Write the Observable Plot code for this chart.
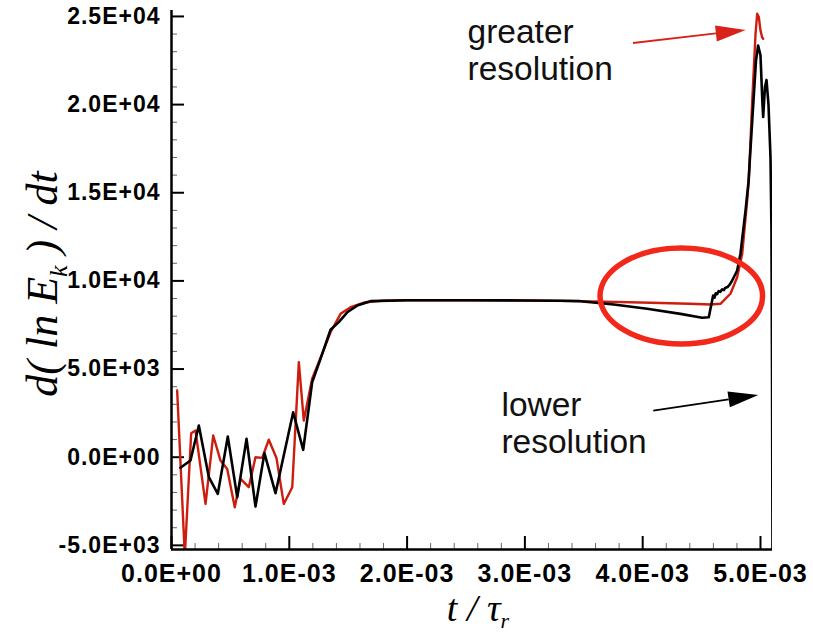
<!DOCTYPE html>
<html>
<head>
<meta charset="utf-8">
<script src="https://cdn.jsdelivr.net/npm/d3@7"></script>
<script src="https://cdn.jsdelivr.net/npm/@observablehq/plot@0.6"></script>
<style>
  html, body { margin: 0; padding: 0; background: #fff; }
  #chart { width: 813px; height: 634px; }
  g[aria-label="y-axis tick label"] text, g[aria-label="x-axis tick label"] text { letter-spacing: 1px; }
</style>
</head>
<body>
<div id="chart"></div>
<script>
// ---- data (time in units of 1e-3 tau_r, growth rate d(ln Ek)/dt) ----
const redT = [0.048, 0.113, 0.167, 0.204, 0.289, 0.354, 0.416, 0.473, 0.537, 0.586, 0.656, 0.713, 0.770, 0.826, 0.891, 0.953, 1.025, 1.081, 1.123, 1.194, 1.279, 1.350, 1.435, 1.520, 1.647, 1.80, 2.00, 2.50, 3.00, 3.47, 4.07, 4.40, 4.576, 4.66, 4.745, 4.802, 4.845, 4.887, 4.901, 4.930, 4.958, 4.972, 4.986, 5.000, 5.014, 5.023];
const redV = [3780, -5600, 1360, 1510, -2650, 1230, -190, -670, -2840, -1230, -1700, 0, -40, 990, -40, -2650, -1700, 5390, 2080, 4450, 5870, 7090, 8130, 8510, 8790, 8880, 8900, 8900, 8890, 8850, 8760, 8700, 8660, 8700, 9270, 10210, 11540, 14560, 15700, 20230, 24010, 25150, 24960, 24200, 23820, 23730];

const blackT = [0.076, 0.161, 0.232, 0.317, 0.393, 0.478, 0.558, 0.637, 0.713, 0.789, 0.883, 1.033, 1.118, 1.194, 1.265, 1.350, 1.420, 1.492, 1.576, 1.689, 2.00, 2.50, 3.00, 3.30, 3.47, 3.755, 4.038, 4.321, 4.505, 4.561, 4.598, 4.61, 4.62, 4.632, 4.645, 4.66, 4.675, 4.689, 4.70, 4.72, 4.74, 4.76, 4.802, 4.830, 4.873, 4.898, 4.932, 4.962, 4.980, 5.000, 5.017, 5.023, 5.038, 5.051, 5.068, 5.085, 5.093, 5.098, 5.102];
const blackV = [-600, -190, 1800, -1130, -2080, 1170, -2270, 1040, -2800, 230, -2040, 2550, 420, 4250, 5580, 7230, 7660, 8220, 8600, 8850, 8900, 8900, 8890, 8870, 8850, 8660, 8420, 8130, 7910, 7940, 9170, 9050, 9300, 9250, 9420, 9380, 9520, 9480, 9600, 9650, 9800, 10020, 10590, 11540, 13990, 15600, 19300, 22500, 23350, 22800, 20000, 19300, 21000, 21400, 20000, 17000, 13000, 5000, -5600];

const xMajorTicks = [0, 1, 2, 3, 4, 5];
const xMinorTicks = [0.2, 0.4, 0.6, 0.8, 1.2, 1.4, 1.6, 1.8, 2.2, 2.4, 2.6, 2.8, 3.2, 3.4, 3.6, 3.8, 4.2, 4.4, 4.6, 4.8];
const yMajorTicks = [-5000, 0, 5000, 10000, 15000, 20000, 25000];
const yMinorTicks = [-4000, -3000, -2000, -1000, 1000, 2000, 3000, 4000, 6000, 7000, 8000, 9000, 11000, 12000, 13000, 14000, 16000, 17000, 18000, 19000, 21000, 22000, 23000, 24000];

const annoText = ["greater\nresolution", "lower\nresolution"];
const annoT = [2.513, 2.801];
const annoV = [24987, 3829];

const arrowTailT = [3.922, 4.094];
const arrowTailV = [23466, 2609];
const arrowTipT = [4.879, 4.986];
const arrowTipV = [24200, 3500];
const arrowColor = ["#d8231a", "#000000"];

const ellipseCenter = [4.332, 9115];
const ellipseRadii = [0.690, 2723];

// ---- build ----
const S = 1e-3;
const red = redT.map((t, i) => ({t: t * S, v: redV[i]}));
const black = blackT.map((t, i) => ({t: t * S, v: blackV[i]}));
const annos = annoText.map((s, i) => ({s, t: annoT[i] * S, v: annoV[i]}));
const arrows = arrowTailT.map((t, i) => ({x1: t * S, y1: arrowTailV[i], x2: arrowTipT[i] * S, y2: arrowTipV[i], c: arrowColor[i]}));

function sci(v) {
  const s = (+v).toExponential(1);
  const [m, e] = s.split("e");
  const sign = e[0] === "-" ? "-" : "+";
  const ex = Math.abs(+e).toString().padStart(2, "0");
  return m + "E" + sign + ex;
}

const W = 813, H = 634, ML = 171, MR = 41, MT = 10, MB = 85;
const innerW = W - ML - MR, innerH = H - MT - MB;

function arrowMark(index, {x, y}) {
  const g = d3.create("svg:g");
  const headLen = 30, half = 8;
  for (const a of arrows) {
    const x1 = x(a.x1), y1 = y(a.y1), x2 = x(a.x2), y2 = y(a.y2);
    const ang = Math.atan2(y2 - y1, x2 - x1);
    const bx = x2 - headLen * Math.cos(ang), by = y2 - headLen * Math.sin(ang);
    const px = -Math.sin(ang) * half, py = Math.cos(ang) * half;
    g.append("line").attr("x1", x1).attr("y1", y1).attr("x2", bx).attr("y2", by)
      .attr("stroke", a.c).attr("stroke-width", 1.8);
    g.append("polygon")
      .attr("points", [[x2, y2], [bx + px, by + py], [bx - px, by - py]].map(p => p.join(",")).join(" "))
      .attr("fill", a.c);
  }
  return g.node();
}

function ellipseMark(index, {x, y}) {
  const cx = x(ellipseCenter[0] * S), cy = y(ellipseCenter[1]);
  const rx = x((ellipseCenter[0] + ellipseRadii[0]) * S) - cx;
  const ry = cy - y(ellipseCenter[1] + ellipseRadii[1]);
  return d3.create("svg:ellipse").attr("cx", cx).attr("cy", cy).attr("rx", rx).attr("ry", ry)
    .attr("fill", "none").attr("stroke", "#f2281a").attr("stroke-width", 5.5).node();
}

function titlesMark() {
  const g = d3.create("svg:g").attr("font-family", "'Liberation Serif', 'Times New Roman', serif")
    .attr("font-style", "italic").attr("fill", "#000");
  const yt = g.append("text").attr("transform", "translate(57,284) rotate(-90)")
    .attr("text-anchor", "middle").attr("font-size", 44);
  yt.append("tspan").text("d( ln E");
  yt.append("tspan").attr("font-size", 26).attr("dy", 10).text("k");
  yt.append("tspan").attr("dy", -10).text(" ) / dt");
  const xt = g.append("text").attr("transform", "translate(478,621)")
    .attr("text-anchor", "middle").attr("font-size", 38);
  xt.append("tspan").text("t / τ");
  xt.append("tspan").attr("font-size", 22).attr("dy", 7).text("r");
  return g.node();
}

const chart = Plot.plot({
  width: W, height: H,
  marginLeft: ML, marginRight: MR, marginTop: MT, marginBottom: MB,
  style: {fontFamily: "'Liberation Sans', Arial, sans-serif", background: "#fff", color: "#000", overflow: "visible"},
  x: {domain: [0, 5.102 * S], label: null},
  y: {domain: [-5235, 25337], label: null},
  marks: [
    Plot.tickY(yMinorTicks, {y: d => d, insetRight: innerW - 6, stroke: "#666", strokeWidth: 1}),
    Plot.tickY(yMajorTicks, {y: d => d, insetRight: innerW - 13, stroke: "#000", strokeWidth: 2}),
    Plot.tickX(xMinorTicks.map(d => d * S), {x: d => d, insetTop: innerH - 6, stroke: "#666", strokeWidth: 1}),
    Plot.tickX(xMajorTicks.map(d => d * S), {x: d => d, insetTop: innerH - 13, stroke: "#000", strokeWidth: 2}),
    Plot.axisY(yMajorTicks, {tickSize: 0, tickPadding: 11, tickFormat: sci, fontSize: 23, fontWeight: "bold", label: null}),
    Plot.axisX(xMajorTicks.map(d => d * S), {tickSize: 0, tickPadding: 15, tickFormat: sci, fontSize: 25, fontWeight: "bold", label: null}),
    Plot.line(red, {x: "t", y: "v", stroke: "#cc1d0e", strokeWidth: 2.4, clip: true}),
    Plot.line(black, {x: "t", y: "v", stroke: "#000", strokeWidth: 2.6, clip: true}),
    Plot.ruleX([0], {stroke: "#000", strokeWidth: 2.5}),
    Plot.ruleY([-5235], {stroke: "#000", strokeWidth: 2.5}),
    ellipseMark,
    arrowMark,
    Plot.text(annos, {x: "t", y: "v", text: "s", textAnchor: "start", lineAnchor: "top", lineHeight: 1.11, fontSize: 33.5, fill: "#111"}),
    titlesMark
  ]
});
document.getElementById("chart").appendChild(chart);
</script>
</body>
</html>
